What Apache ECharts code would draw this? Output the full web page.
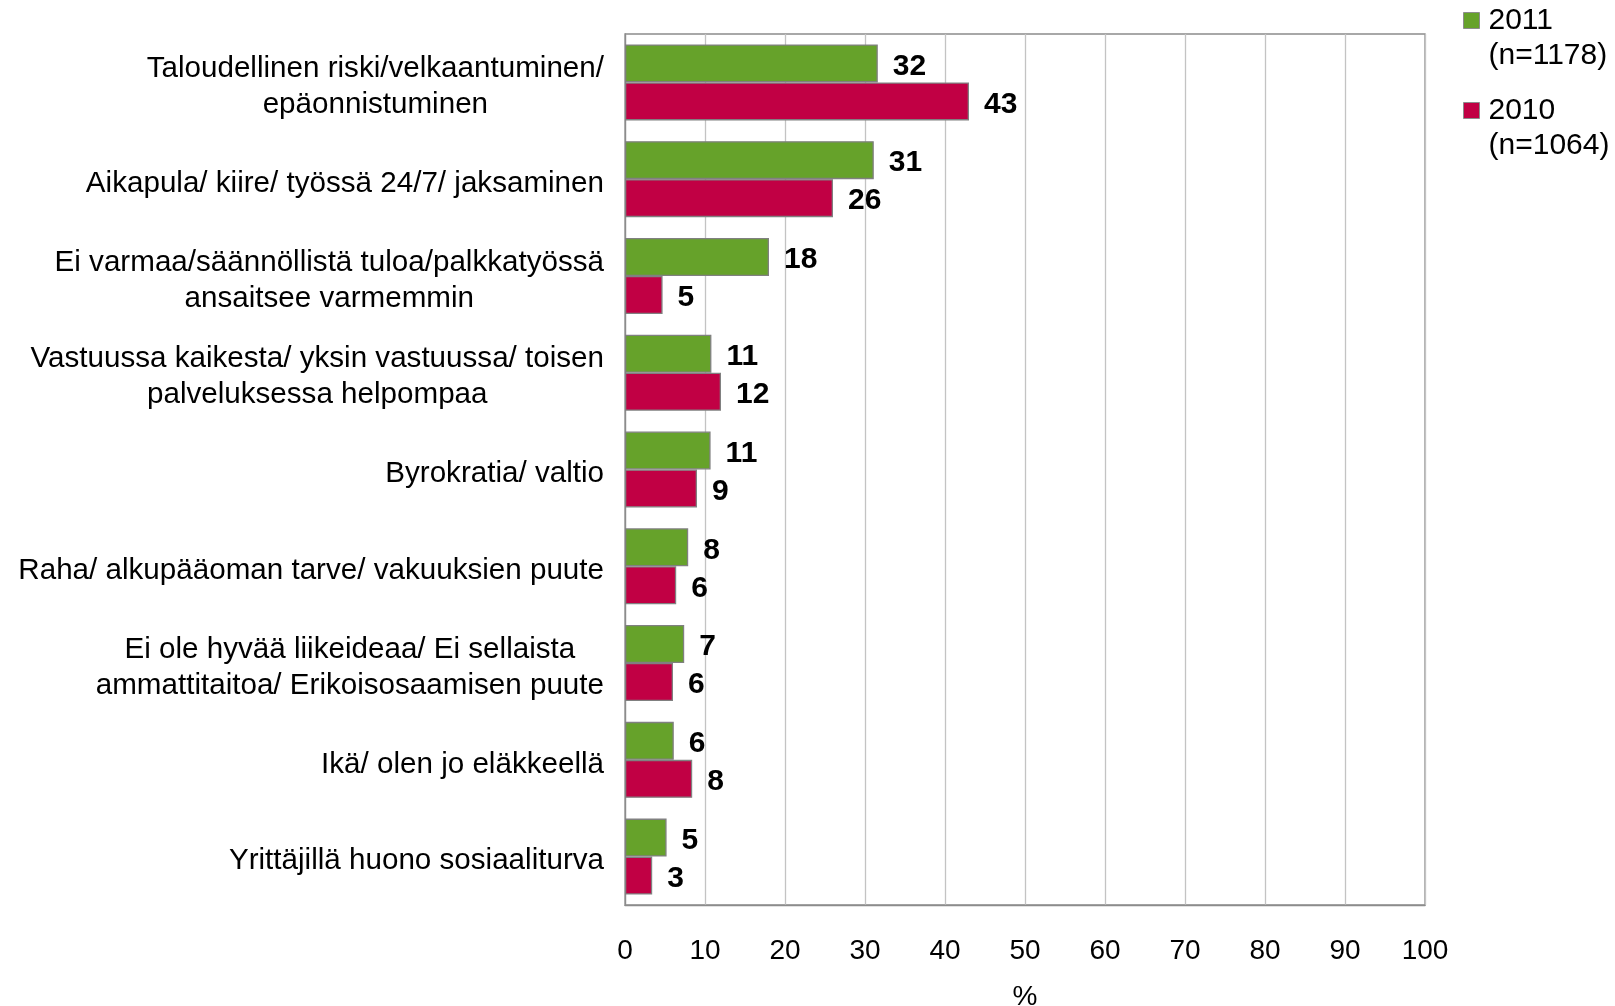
<!DOCTYPE html>
<html>
<head>
<meta charset="utf-8">
<script src="https://cdn.jsdelivr.net/npm/echarts@6/dist/echarts.min.js"></script>
<style>
html,body{margin:0;padding:0;background:#fff;}
#chart{width:1615px;height:1006px;}
</style>
</head>
<body>
<div id="chart"></div>
<script>
const categories = [
  'Taloudellinen riski/velkaantuminen/\nepäonnistuminen',
  'Aikapula/ kiire/ työssä 24/7/ jaksaminen',
  'Ei varmaa/säännöllistä tuloa/palkkatyössä\nansaitsee varmemmin',
  'Vastuussa kaikesta/ yksin vastuussa/ toisen\npalveluksessa helpompaa',
  'Byrokratia/ valtio',
  'Raha/ alkupääoman tarve/ vakuuksien puute',
  'Ei ole hyvää liikeideaa/ Ei sellaista\nammattitaitoa/ Erikoisosaamisen puute',
  'Ikä/ olen jo eläkkeellä',
  'Yrittäjillä huono sosiaaliturva'
];
const values2011 = [31.6, 31.1, 18.0, 10.8, 10.7, 7.9, 7.4, 6.1, 5.2];
const values2010 = [43.0, 26.0, 4.7, 12.0, 9.0, 6.4, 6.0, 8.4, 3.4];
const seriesNames = ['2011\n(n=1178)', '2010\n(n=1064)'];
const xTicks = [0, 10, 20, 30, 40, 50, 60, 70, 80, 90, 100];

const chart = echarts.init(document.getElementById('chart'), null, {renderer: 'canvas'});
const labelCfg = {
  show: true,
  position: 'right',
  distance: 15,
  offset: [0, 3],
  fontSize: 30,
  fontWeight: 'bold',
  color: '#000',
  formatter: p => String(Math.round(p.value))
};
chart.setOption({
  animation: false,
  backgroundColor: '#fff',
  textStyle: {fontFamily: 'Liberation Sans, Arial, sans-serif'},
  grid: {left: 625, right: 190, top: 34, bottom: 101, show: true, borderColor: '#8c8c8c', borderWidth: 1.3, containLabel: false, outerBoundsMode: 'none'},
  legend: {
    orient: 'vertical',
    left: 1463,
    top: -32,
    padding: 0,
    itemWidth: 16,
    itemHeight: 16,
    itemGap: -15,
    icon: 'rect',
    itemStyle: {borderColor: '#8c8c8c', borderWidth: 1},
    formatter: name => '{s| }\n' + name.split('\n').map(s => '{a|' + s + '}').join('\n'),
    textStyle: {
      fontSize: 30, lineHeight: 35, color: '#000', padding: [0, 0, 0, 4],
      rich: {
        s: {fontSize: 30, lineHeight: 35},
        a: {fontSize: 30, lineHeight: 35, color: '#000'}
      }
    },
    data: seriesNames
  },
  xAxis: {
    type: 'value',
    min: xTicks[0],
    max: xTicks[xTicks.length - 1],
    interval: 10,
    name: '%',
    nameLocation: 'middle',
    nameGap: 78,
    nameTextStyle: {fontSize: 28, color: '#000'},
    axisLine: {show: true, lineStyle: {color: '#8c8c8c', width: 1.3}},
    axisTick: {show: false},
    axisLabel: {fontSize: 28, color: '#000', margin: 32},
    splitLine: {show: true, lineStyle: {color: '#c3c3c3', width: 1.3}}
  },
  yAxis: {
    type: 'category',
    inverse: true,
    data: categories,
    axisLine: {show: true, lineStyle: {color: '#8c8c8c', width: 1.3}},
    axisTick: {show: false},
    axisLabel: {
      fontSize: 29.6,
      color: '#000',
      margin: 21,
      align: 'right',
      padding: [9, 0, 0, 0],
      formatter: v => v.split('\n').map(s => '{c|' + s + '}').join('\n'),
      rich: {c: {fontSize: 29.6, lineHeight: 36, align: 'center', color: '#000'}}
    }
  },
  series: [
    {
      name: seriesNames[0],
      type: 'bar',
      data: values2011,
      barWidth: 38,
      barGap: '0%',
      itemStyle: {color: '#66a22a', borderColor: '#808080', borderWidth: 1.3},
      label: labelCfg
    },
    {
      name: seriesNames[1],
      type: 'bar',
      data: values2010,
      barWidth: 38,
      barGap: '0%',
      itemStyle: {color: '#c10044', borderColor: '#808080', borderWidth: 1.3},
      label: labelCfg
    }
  ]
});
</script>
</body>
</html>
